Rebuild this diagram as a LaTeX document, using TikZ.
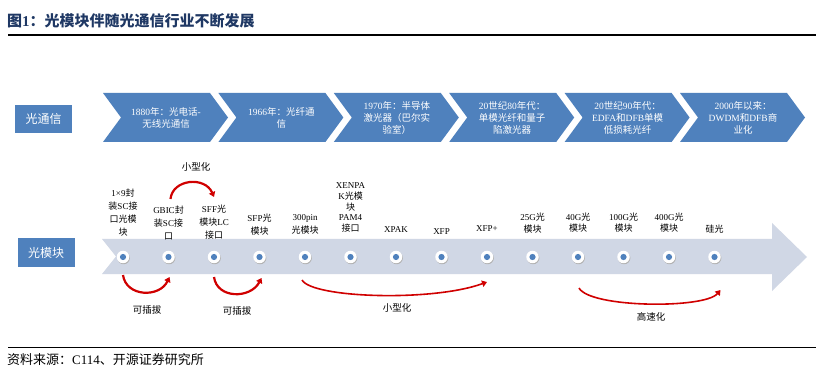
\documentclass[tikz,border=0pt]{standalone}
\usepackage{fontspec}
\setmainfont{Liberation Serif}
\newfontfamily\cjkfont{Noto Sans CJK SC}
\usetikzlibrary{arrows.meta,calc}
\XeTeXinterchartokenstate=1
\newXeTeXintercharclass\cjkclass
\makeatletter
\def\setcjkrange#1#2{\count@=#1\relax
  \loop\XeTeXcharclass\count@=\cjkclass
  \ifnum\count@<#2\relax\advance\count@ by 1\repeat}
\makeatother
\setcjkrange{"3000}{"303F}
\setcjkrange{"4E00}{"9FFF}
\setcjkrange{"FF00}{"FFEF}
\XeTeXinterchartoks 0 \cjkclass = {\begingroup\cjkfont}
\XeTeXinterchartoks 4095 \cjkclass = {\begingroup\cjkfont}
\XeTeXinterchartoks \cjkclass 0 = {\endgroup}
\XeTeXinterchartoks \cjkclass 4095 = {\endgroup}
\definecolor{blue1}{HTML}{4F81BD}
\definecolor{band1}{HTML}{D0D7E5}
\definecolor{red1}{HTML}{D00000}
\definecolor{navy1}{HTML}{1F3864}

\begin{document}
\begin{tikzpicture}[x=1pt,y=-1pt,
    every node/.style={inner sep=0pt},
    tag/.style={fill=blue1,text=white,minimum width=57pt,minimum height=28pt,
                font=\fontsize{12}{14}\selectfont},
    chev/.style={fill=blue1},
    ctext/.style={text=white,align=center,font=\fontsize{9.5}{12}\selectfont},
    dot/.style={circle,fill=white,minimum size=12.5pt,
                preaction={fill=black!30,transform canvas={shift={(0.6pt,-1pt)}}},
                path picture={\fill[blue1] (path picture bounding box.center) circle (3.1pt);}},
    lbl/.style={align=center},
    arr/.style={-{Triangle[length=5pt,width=6.5pt]},line width=2.2pt,draw=red1},
    note/.style={font=\fontsize{9.5}{11}\selectfont},
  ]
  \useasboundingbox (0,0) rectangle (824,379);
  \fill[white] (0,0) rectangle (824,379);

  \node[anchor=west,text=navy1,font=\fontsize{15}{17}\selectfont\bfseries] (title) at (7,21)
    {图1：光模块伴随光通信行业不断发展};
  \draw[line width=1.3pt] (8,35) -- (816,35);

  \node[tag] (comm) at (43.5,119) {光通信};
  \node[tag,minimum height=29pt] (mod) at (46,252.5) {光模块};

  \foreach \i/\txt in {1/{1880年：光电话-\\无线光通信},
                       2/{1966年：光纤通\\信},
                       3/{1970年：半导体\\激光器（巴尔实\\验室）},
                       4/{20世纪80年代：\\单模光纤和量子\\陷激光器},
                       5/{20世纪90年代：\\EDFA和DFB单模\\低损耗光纤},
                       6/{2000年以来：\\DWDM和DFB商\\业化}}{
    \pgfmathsetmacro\xl{103+115.4*(\i-1)}
    \fill[chev] (\xl,93) -- ++(107,0) -- ++(18,24.5) -- ++(-18,24.5) -- ++(-107,0) -- ++(18,-24.5) -- cycle;
    \node[ctext] (c\i) at (\xl+63,117.5) {\txt};
  }

  \fill[band1] (102,239) -- (772,239) -- (772,223) -- (807,257) -- (772,291)
    -- (772,274) -- (102,274) -- (116,256.5) -- cycle;

  \foreach \i/\ly/\ls/\txt in {1/212.5/13/{1×9封\\装SC接\\口光模\\块},
                               2/222.5/13/{GBIC封\\装SC接\\口},
                               3/222/13/{SFF光\\模块LC\\接口},
                               4/224.5/13/{SFP光\\模块},
                               5/224.5/13/{300pin\\光模块},
                               6/207.5/10.7/{XENPA\\K光模\\块\\PAM4\\接口},
                               7/230/13/{XPAK},
                               8/232/13/{XFP},
                               9/229/13/{XFP+},
                               10/223/12/{25G光\\模块},
                               11/222.5/11.5/{40G光\\模块},
                               12/222.5/11.5/{100G光\\模块},
                               13/222.5/11.5/{400G光\\模块},
                               14/229/13/{硅光}}{
    \node[dot] (d\i) at ({123+45.5*(\i-1)},257) {};
    \node[lbl,font=\fontsize{9}{\ls}\selectfont] (m\i) at ({123+45.5*(\i-1)},\ly) {\txt};
  }

  \draw[arr] ($(d2)+(2,-58)$) .. controls ($(d2)+(4,-78)$) and ($(d3)+(-9,-81)$) .. ($(d3)+(0,-60)$);
  \node[note] (small1) at (196,167) {小型化};

  \draw[arr] ($(d1)+(0,18)$) .. controls ($(d1)+(3,40)$) and ($(d2)+(-9,41)$) .. ($(d2)+(1,20)$);
  \draw[arr] ($(d3)+(0,20)$) .. controls ($(d3)+(3,42)$) and ($(d4)+(-9,42)$) .. ($(d4)+(2,21)$);
  \draw[arr,line width=1.6pt] ($(d5)+(-3,23)$) .. controls ($(d5)+(7,41)$) and ($(d9)+(-55,45)$) .. ($(d9)+(0,25)$);
  \draw[arr,line width=1.6pt] ($(d11)+(1,31)$) .. controls ($(d11)+(12,51)$) and ($(d14)+(-10,52)$) .. ($(d14)+(6,33)$);
  \node[note] (plug1) at (147,310) {可插拔};
  \node[note] (plug2) at (237,311) {可插拔};
  \node[note] (small2) at (397,308) {小型化};
  \node[note] (fast) at (651,317) {高速化};

  \draw[line width=0.9pt] (8,347) -- (816,347);
  \node[anchor=west,font=\fontsize{13}{15}\selectfont] (src) at (7,360)
    {资料来源：C114、开源证券研究所};
\end{tikzpicture}
\end{document}
